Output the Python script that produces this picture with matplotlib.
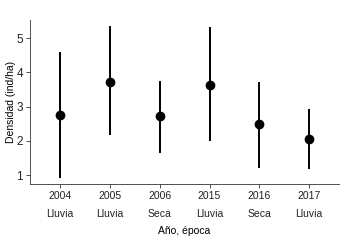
import matplotlib.pyplot as plt

plt.rcParams['font.family'] = ['Liberation Sans', 'DejaVu Sans']

# data
years = ["2004", "2005", "2006", "2015", "2016", "2017"]
seasons = ["Lluvia", "Lluvia", "Seca", "Lluvia", "Seca", "Lluvia"]
density = [2.75, 3.73, 2.73, 3.63, 2.49, 2.04]
upper = [4.58, 5.34, 3.75, 5.31, 3.73, 2.92]
lower = [0.92, 2.17, 1.65, 1.99, 1.22, 1.17]

fig = plt.figure(figsize=(3.57, 2.43), dpi=100)
ax = fig.add_axes([0.084, 0.243, 0.866, 0.675])

x = list(range(1, len(years) + 1))
ax.vlines(x, lower, upper, color='black', linewidth=1.4)
ax.plot(x, density, 'o', color='black', markersize=6)

ax.set_xlim(0.4, len(years) + 0.6)
ax.set_ylim(0.74, 5.53)
ax.set_yticks([1, 2, 3, 4, 5])
ax.set_xticks(x)
ax.set_xticklabels([f"{y}\n\n{s}" for y, s in zip(years, seasons)], linespacing=0.9)

ax.tick_params(labelsize=7.5, length=3, width=0.6, color='#333333', labelcolor='#222222', pad=2)
ax.tick_params(axis='y', labelsize=8.5)
ax.set_ylabel("Densidad (ind/ha)", fontsize=7.5)
ax.yaxis.set_label_coords(-0.045, 0.5)
ax.set_xlabel("Año, época", fontsize=7.5, labelpad=5)

for side in ['top', 'right']:
    ax.spines[side].set_visible(False)
for side in ['left', 'bottom']:
    ax.spines[side].set_linewidth(0.6)
    ax.spines[side].set_color('#333333')

fig.savefig("out.png", dpi=100)
